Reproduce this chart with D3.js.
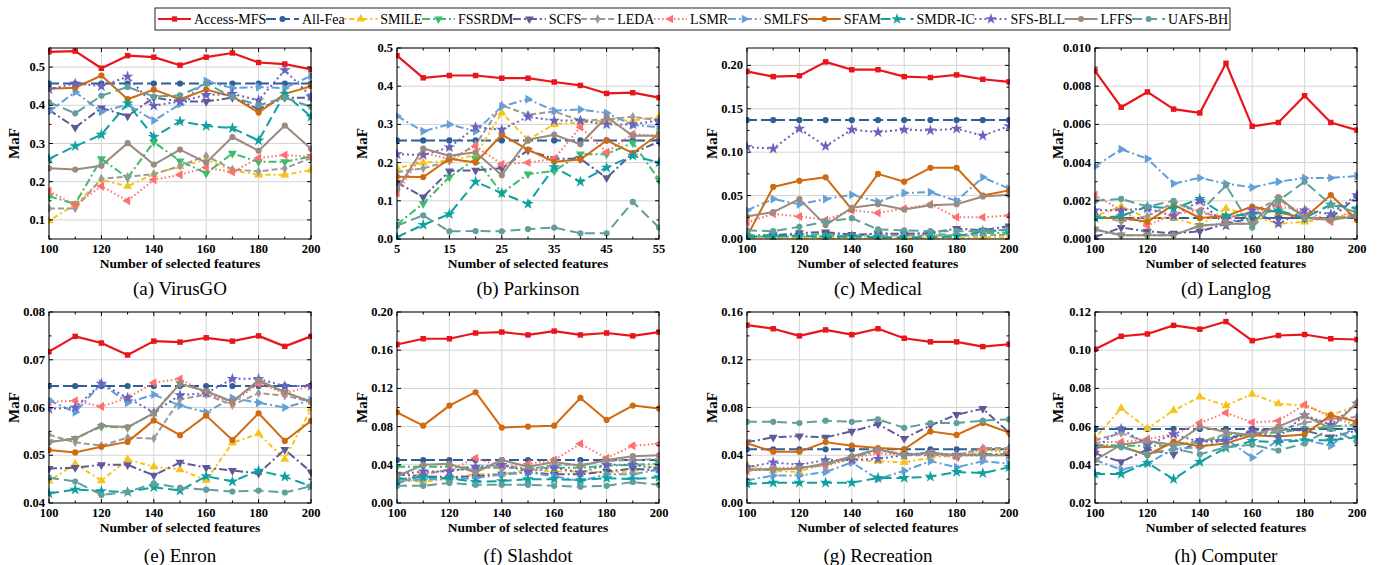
<!DOCTYPE html>
<html>
<head>
<meta charset="utf-8">
<script src="https://cdn.jsdelivr.net/npm/d3@7"></script>
<style>
  body { margin: 0; background: #fff; }
  svg { display: block; }
  text { font-family: "Liberation Serif", "Times New Roman", serif; }
</style>
</head>
<body>
<svg id="chart" width="1387" height="565"></svg>
<script>
// method names, in legend order (rows of every panel array follow this order)
var methods = ["Access-MFS", "All-Fea", "SMILE", "FSSRDM", "SCFS", "LEDA", "LSMR",
               "SMLFS", "SFAM", "SMDR-IC", "SFS-BLL", "LFFS", "UAFS-BH"];

var featSteps = [100, 110, 120, 130, 140, 150, 160, 170, 180, 190, 200];
var parkSteps = [5, 10, 15, 20, 25, 30, 35, 40, 45, 50, 55];
var featTicks = [100, 120, 140, 160, 180, 200];
var parkTicks = [5, 15, 25, 35, 45, 55];

var captions = ["(a) VirusGO", "(b) Parkinson", "(c) Medical", "(d) Langlog",
                "(e) Enron", "(f) Slashdot", "(g) Recreation", "(h) Computer"];

// MaF values
var virusGO = [
  [0.540, 0.542, 0.497, 0.530, 0.526, 0.505, 0.526, 0.537, 0.512, 0.508, 0.494],
  [0.457, 0.457, 0.457, 0.457, 0.457, 0.457, 0.457, 0.457, 0.457, 0.457, 0.457],
  [0.098, 0.140, 0.205, 0.188, 0.220, 0.240, 0.258, 0.230, 0.218, 0.218, 0.231],
  [0.162, 0.142, 0.260, 0.210, 0.304, 0.254, 0.222, 0.274, 0.252, 0.252, 0.266],
  [0.388, 0.342, 0.393, 0.372, 0.420, 0.410, 0.410, 0.420, 0.390, 0.420, 0.420],
  [0.130, 0.130, 0.208, 0.213, 0.220, 0.241, 0.268, 0.232, 0.227, 0.235, 0.262],
  [0.175, 0.140, 0.188, 0.150, 0.205, 0.218, 0.237, 0.225, 0.262, 0.270, 0.265],
  [0.383, 0.435, 0.383, 0.402, 0.360, 0.403, 0.464, 0.445, 0.448, 0.445, 0.477],
  [0.443, 0.446, 0.478, 0.416, 0.441, 0.416, 0.441, 0.423, 0.381, 0.430, 0.450],
  [0.260, 0.293, 0.323, 0.405, 0.317, 0.358, 0.346, 0.340, 0.308, 0.430, 0.370],
  [0.442, 0.457, 0.450, 0.475, 0.399, 0.410, 0.427, 0.430, 0.413, 0.492, 0.423],
  [0.235, 0.232, 0.242, 0.301, 0.245, 0.284, 0.250, 0.317, 0.281, 0.347, 0.286],
  [0.408, 0.379, 0.425, 0.448, 0.423, 0.426, 0.457, 0.422, 0.400, 0.420, 0.396]
];

var parkinson = [
  [0.480, 0.422, 0.428, 0.428, 0.421, 0.421, 0.411, 0.402, 0.381, 0.383, 0.370],
  [0.258, 0.258, 0.258, 0.258, 0.258, 0.258, 0.258, 0.258, 0.258, 0.258, 0.258],
  [0.186, 0.200, 0.205, 0.220, 0.330, 0.260, 0.300, 0.305, 0.310, 0.310, 0.320],
  [0.038, 0.093, 0.162, 0.210, 0.120, 0.170, 0.178, 0.222, 0.222, 0.252, 0.155],
  [0.148, 0.110, 0.178, 0.180, 0.185, 0.232, 0.210, 0.210, 0.160, 0.225, 0.255],
  [0.175, 0.185, 0.204, 0.247, 0.350, 0.325, 0.334, 0.310, 0.313, 0.320, 0.310],
  [0.120, 0.225, 0.210, 0.243, 0.196, 0.200, 0.210, 0.293, 0.227, 0.275, 0.270],
  [0.322, 0.282, 0.300, 0.282, 0.347, 0.366, 0.336, 0.339, 0.330, 0.298, 0.293],
  [0.163, 0.162, 0.210, 0.200, 0.273, 0.234, 0.202, 0.208, 0.258, 0.225, 0.275],
  [0.005, 0.037, 0.065, 0.150, 0.120, 0.092, 0.188, 0.150, 0.187, 0.218, 0.200],
  [0.222, 0.220, 0.240, 0.293, 0.286, 0.320, 0.310, 0.310, 0.300, 0.300, 0.310],
  [0.130, 0.237, 0.218, 0.227, 0.167, 0.260, 0.273, 0.248, 0.320, 0.270, 0.270],
  [0.035, 0.062, 0.020, 0.021, 0.020, 0.026, 0.030, 0.015, 0.015, 0.097, 0.030]
];

var medical = [
  [0.193, 0.187, 0.188, 0.204, 0.195, 0.195, 0.187, 0.186, 0.189, 0.184, 0.181],
  [0.137, 0.137, 0.137, 0.137, 0.137, 0.137, 0.137, 0.137, 0.137, 0.137, 0.137],
  [0.001, 0.001, 0.001, 0.001, 0.001, 0.001, 0.001, 0.001, 0.001, 0.002, 0.002],
  [0.004, 0.005, 0.004, 0.006, 0.003, 0.007, 0.005, 0.006, 0.004, 0.007, 0.007],
  [0.002, 0.004, 0.007, 0.008, 0.005, 0.006, 0.006, 0.007, 0.012, 0.010, 0.015],
  [0.003, 0.003, 0.003, 0.003, 0.004, 0.004, 0.004, 0.004, 0.004, 0.004, 0.005],
  [0.019, 0.029, 0.026, 0.022, 0.033, 0.030, 0.035, 0.040, 0.025, 0.025, 0.027],
  [0.033, 0.046, 0.040, 0.046, 0.051, 0.043, 0.053, 0.054, 0.044, 0.071, 0.058],
  [0.003, 0.060, 0.067, 0.071, 0.034, 0.075, 0.066, 0.082, 0.082, 0.050, 0.056],
  [0.003, 0.003, 0.004, 0.002, 0.003, 0.002, 0.002, 0.002, 0.003, 0.009, 0.010],
  [0.106, 0.104, 0.127, 0.107, 0.126, 0.123, 0.126, 0.125, 0.127, 0.119, 0.130],
  [0.026, 0.031, 0.046, 0.016, 0.036, 0.040, 0.034, 0.039, 0.040, 0.049, 0.051],
  [0.010, 0.009, 0.014, 0.020, 0.024, 0.011, 0.010, 0.009, 0.009, 0.009, 0.011]
];

var langlog = [
  [0.0088, 0.0069, 0.0077, 0.0068, 0.0066, 0.0092, 0.0059, 0.0061, 0.0075, 0.0061, 0.0057],
  [0.0011, 0.0011, 0.0011, 0.0011, 0.0011, 0.0011, 0.0011, 0.0011, 0.0011, 0.0011, 0.0011],
  [0.0012, 0.0017, 0.0011, 0.0011, 0.0007, 0.0016, 0.0012, 0.0008, 0.0009, 0.0011, 0.0014],
  [0.0005, 0.0002, 0.0002, 0.0002, 0.0007, 0.0008, 0.0008, 0.0021, 0.0011, 0.0011, 0.0012],
  [0.0001, 0.0006, 0.0004, 0.0003, 0.0004, 0.0008, 0.0011, 0.0011, 0.0011, 0.0011, 0.0022],
  [0.0013, 0.0009, 0.0012, 0.0019, 0.0014, 0.0011, 0.0014, 0.0021, 0.0012, 0.0010, 0.0013],
  [0.0023, 0.0015, 0.0007, 0.0013, 0.0015, 0.0010, 0.0014, 0.0017, 0.0015, 0.0009, 0.0016],
  [0.0038, 0.0047, 0.0042, 0.0029, 0.0032, 0.0029, 0.0027, 0.0030, 0.0032, 0.0032, 0.0033],
  [0.0011, 0.0011, 0.0009, 0.0018, 0.0011, 0.0012, 0.0017, 0.0014, 0.0011, 0.0023, 0.0010],
  [0.0011, 0.0012, 0.0017, 0.0016, 0.0021, 0.0012, 0.0013, 0.0015, 0.0011, 0.0018, 0.0016],
  [0.0015, 0.0015, 0.0016, 0.0012, 0.0020, 0.0007, 0.0015, 0.0008, 0.0015, 0.0013, 0.0023],
  [0.0005, 0.0002, 0.0002, 0.0002, 0.0007, 0.0008, 0.0008, 0.0022, 0.0011, 0.0010, 0.0012],
  [0.0020, 0.0021, 0.0017, 0.0020, 0.0014, 0.0028, 0.0006, 0.0020, 0.0030, 0.0018, 0.0014]
];

var enron = [
  [0.0717, 0.0749, 0.0735, 0.0710, 0.0739, 0.0737, 0.0746, 0.0739, 0.0750, 0.0728, 0.0749],
  [0.0645, 0.0645, 0.0645, 0.0645, 0.0645, 0.0645, 0.0645, 0.0645, 0.0645, 0.0645, 0.0645],
  [0.0446, 0.0482, 0.0447, 0.0491, 0.0476, 0.0470, 0.0448, 0.0526, 0.0545, 0.0492, 0.0597],
  [0.0528, 0.0535, 0.0560, 0.0558, 0.0588, 0.0650, 0.0634, 0.0612, 0.0655, 0.0632, 0.0612],
  [0.0472, 0.0474, 0.0480, 0.0480, 0.0458, 0.0485, 0.0474, 0.0468, 0.0462, 0.0512, 0.0465],
  [0.0543, 0.0527, 0.0520, 0.0537, 0.0535, 0.0617, 0.0627, 0.0605, 0.0630, 0.0625, 0.0612],
  [0.0612, 0.0614, 0.0602, 0.0620, 0.0652, 0.0660, 0.0630, 0.0610, 0.0650, 0.0630, 0.0645],
  [0.0615, 0.0590, 0.0650, 0.0610, 0.0627, 0.0604, 0.0590, 0.0620, 0.0610, 0.0600, 0.0615],
  [0.0511, 0.0506, 0.0518, 0.0528, 0.0573, 0.0542, 0.0583, 0.0532, 0.0588, 0.0530, 0.0572],
  [0.0420, 0.0428, 0.0425, 0.0423, 0.0433, 0.0426, 0.0456, 0.0445, 0.0468, 0.0455, 0.0435],
  [0.0597, 0.0600, 0.0650, 0.0620, 0.0590, 0.0626, 0.0630, 0.0660, 0.0660, 0.0645, 0.0645],
  [0.0527, 0.0535, 0.0562, 0.0559, 0.0588, 0.0650, 0.0634, 0.0612, 0.0657, 0.0632, 0.0612],
  [0.0453, 0.0445, 0.0417, 0.0423, 0.0441, 0.0432, 0.0428, 0.0424, 0.0426, 0.0422, 0.0435]
];

var slashdot = [
  [0.166, 0.172, 0.172, 0.178, 0.179, 0.176, 0.180, 0.176, 0.178, 0.175, 0.179],
  [0.045, 0.045, 0.045, 0.045, 0.045, 0.045, 0.045, 0.045, 0.045, 0.045, 0.045],
  [0.025, 0.022, 0.026, 0.030, 0.030, 0.035, 0.033, 0.033, 0.032, 0.033, 0.040],
  [0.038, 0.038, 0.038, 0.037, 0.037, 0.037, 0.037, 0.037, 0.039, 0.040, 0.041],
  [0.030, 0.028, 0.027, 0.028, 0.030, 0.032, 0.030, 0.030, 0.033, 0.036, 0.034],
  [0.020, 0.030, 0.035, 0.035, 0.040, 0.035, 0.040, 0.040, 0.044, 0.045, 0.046],
  [0.022, 0.031, 0.034, 0.047, 0.038, 0.041, 0.045, 0.062, 0.047, 0.060, 0.062],
  [0.022, 0.025, 0.025, 0.026, 0.030, 0.032, 0.028, 0.023, 0.030, 0.030, 0.035],
  [0.095, 0.081, 0.102, 0.116, 0.079, 0.080, 0.081, 0.110, 0.087, 0.102, 0.099],
  [0.025, 0.027, 0.026, 0.022, 0.023, 0.025, 0.025, 0.024, 0.026, 0.025, 0.027],
  [0.030, 0.033, 0.033, 0.038, 0.040, 0.033, 0.037, 0.032, 0.040, 0.040, 0.036],
  [0.028, 0.040, 0.041, 0.032, 0.045, 0.038, 0.043, 0.039, 0.045, 0.049, 0.050],
  [0.018, 0.018, 0.021, 0.019, 0.019, 0.019, 0.018, 0.017, 0.018, 0.022, 0.019]
];

var recreation = [
  [0.149, 0.146, 0.140, 0.145, 0.141, 0.146, 0.138, 0.135, 0.135, 0.131, 0.133],
  [0.045, 0.045, 0.045, 0.045, 0.045, 0.045, 0.045, 0.045, 0.045, 0.045, 0.045],
  [0.032, 0.027, 0.026, 0.034, 0.036, 0.035, 0.034, 0.038, 0.040, 0.045, 0.044],
  [0.028, 0.028, 0.029, 0.032, 0.038, 0.044, 0.041, 0.042, 0.040, 0.041, 0.041],
  [0.051, 0.055, 0.056, 0.055, 0.060, 0.066, 0.054, 0.065, 0.074, 0.079, 0.059],
  [0.028, 0.028, 0.029, 0.033, 0.039, 0.045, 0.040, 0.040, 0.040, 0.046, 0.046],
  [0.027, 0.029, 0.030, 0.031, 0.037, 0.042, 0.040, 0.042, 0.038, 0.045, 0.042],
  [0.019, 0.023, 0.023, 0.026, 0.034, 0.020, 0.027, 0.035, 0.030, 0.035, 0.033],
  [0.050, 0.043, 0.043, 0.051, 0.048, 0.046, 0.045, 0.060, 0.057, 0.067, 0.059],
  [0.016, 0.017, 0.017, 0.017, 0.017, 0.021, 0.021, 0.022, 0.026, 0.025, 0.030],
  [0.030, 0.034, 0.032, 0.036, 0.036, 0.037, 0.040, 0.042, 0.040, 0.040, 0.040],
  [0.028, 0.028, 0.029, 0.033, 0.039, 0.045, 0.040, 0.042, 0.040, 0.040, 0.040],
  [0.068, 0.068, 0.067, 0.069, 0.068, 0.070, 0.063, 0.067, 0.067, 0.069, 0.070]
];

var computer = [
  [0.1005, 0.1073, 0.1085, 0.1130, 0.1110, 0.1150, 0.1050, 0.1077, 0.1082, 0.1060, 0.1056],
  [0.0588, 0.0588, 0.0588, 0.0588, 0.0588, 0.0588, 0.0588, 0.0588, 0.0588, 0.0588, 0.0588],
  [0.0540, 0.0695, 0.0590, 0.0685, 0.0755, 0.0710, 0.0770, 0.0720, 0.0710, 0.0660, 0.0710],
  [0.0505, 0.0500, 0.0500, 0.0500, 0.0525, 0.0545, 0.0560, 0.0570, 0.0585, 0.0600, 0.0610],
  [0.0460, 0.0415, 0.0480, 0.0455, 0.0525, 0.0530, 0.0580, 0.0585, 0.0580, 0.0545, 0.0580],
  [0.0530, 0.0565, 0.0520, 0.0500, 0.0520, 0.0560, 0.0560, 0.0580, 0.0620, 0.0640, 0.0650],
  [0.0520, 0.0520, 0.0535, 0.0560, 0.0620, 0.0672, 0.0622, 0.0630, 0.0715, 0.0650, 0.0608],
  [0.0425, 0.0375, 0.0405, 0.0485, 0.0490, 0.0535, 0.0438, 0.0530, 0.0530, 0.0500, 0.0610],
  [0.0490, 0.0497, 0.0450, 0.0522, 0.0497, 0.0512, 0.0555, 0.0548, 0.0558, 0.0660, 0.0625],
  [0.0352, 0.0352, 0.0410, 0.0325, 0.0415, 0.0488, 0.0525, 0.0518, 0.0528, 0.0528, 0.0545],
  [0.0485, 0.0588, 0.0505, 0.0560, 0.0520, 0.0525, 0.0570, 0.0545, 0.0660, 0.0610, 0.0720],
  [0.0425, 0.0505, 0.0525, 0.0505, 0.0600, 0.0572, 0.0555, 0.0600, 0.0658, 0.0590, 0.0725],
  [0.0505, 0.0492, 0.0455, 0.0485, 0.0455, 0.0492, 0.0505, 0.0475, 0.0512, 0.0590, 0.0520]
];

// y axis tick labels for each panel
var yTicksA = [0.1, 0.2, 0.3, 0.4, 0.5];
var yTicksB = [0.0, 0.1, 0.2, 0.3, 0.4, 0.5];
var yTicksC = [0.00, 0.05, 0.10, 0.15, 0.20];
var yTicksD = [0.000, 0.002, 0.004, 0.006, 0.008, 0.010];
var yTicksE = [0.04, 0.05, 0.06, 0.07, 0.08];
var yTicksF = [0.00, 0.04, 0.08, 0.12, 0.16, 0.20];
var yTicksG = [0.00, 0.04, 0.08, 0.12, 0.16];
var yTicksH = [0.02, 0.04, 0.06, 0.08, 0.10, 0.12];

// line styles, same order as methods
var styles = [
  {color: "#e8161b", dash: null,          shape: "square", rot: 0,   w: 2.2},
  {color: "#2f5f98", dash: "10,4",        shape: "circle", rot: 0,   w: 2},
  {color: "#f7c31a", dash: "2,3,5,3",     shape: "tri",    rot: 0,   w: 2},
  {color: "#3cbc6c", dash: "8,3,2,3",     shape: "tri",    rot: 180, w: 2},
  {color: "#5e5a98", dash: "8,3,2,3",     shape: "tri",    rot: 180, w: 2},
  {color: "#9a9a9a", dash: "6,3",         shape: "diamond",rot: 0,   w: 2},
  {color: "#ff6f6f", dash: "1.5,2.5",     shape: "tri",    rot: -90, w: 2},
  {color: "#649fd8", dash: "8,3,2,3",     shape: "tri",    rot: 90,  w: 2},
  {color: "#d06a0e", dash: null,          shape: "circle", rot: 0,   w: 2},
  {color: "#11a0a0", dash: "10,5",        shape: "star",   rot: 0,   w: 2},
  {color: "#6a64c0", dash: "2,3",         shape: "star",   rot: 0,   w: 2},
  {color: "#9b8a7f", dash: null,          shape: "circle", rot: 0,   w: 2},
  {color: "#619e9c", dash: "10,5",        shape: "circle", rot: 0,   w: 2}
];

var panels = [
  {data: virusGO,    xs: featSteps, xt: featTicks, yd: [0.05, 0.55], yt: yTicksA, fmt: ".1f"},
  {data: parkinson,  xs: parkSteps, xt: parkTicks, yd: [0, 0.5],     yt: yTicksB, fmt: ".1f"},
  {data: medical,    xs: featSteps, xt: featTicks, yd: [0, 0.22],    yt: yTicksC, fmt: ".2f"},
  {data: langlog,    xs: featSteps, xt: featTicks, yd: [0, 0.010],   yt: yTicksD, fmt: ".3f"},
  {data: enron,      xs: featSteps, xt: featTicks, yd: [0.04, 0.08], yt: yTicksE, fmt: ".2f"},
  {data: slashdot,   xs: featSteps, xt: featTicks, yd: [0, 0.20],    yt: yTicksF, fmt: ".2f"},
  {data: recreation, xs: featSteps, xt: featTicks, yd: [0, 0.16],    yt: yTicksG, fmt: ".2f"},
  {data: computer,   xs: featSteps, xt: featTicks, yd: [0.02, 0.12], yt: yTicksH, fmt: ".2f"}
];

var svg = d3.select("#chart");
var colX = [49, 397, 747, 1095];
var rowY = [48, 312];
var pw = 262, ph = 191;

function symbolFor(st, size) {
  var t = {square: d3.symbolSquare, circle: d3.symbolCircle, tri: d3.symbolTriangle,
           diamond: d3.symbolDiamond, star: d3.symbolStar}[st.shape];
  var s = size;
  if (st.shape == "tri") s = size * 1.15;
  if (st.shape == "star") s = size * 1.4;
  if (st.shape == "diamond") s = size * 0.9;
  return d3.symbol().type(t).size(s)();
}

panels.forEach(function(p, i) {
  var left = colX[i % 4], top = rowY[Math.floor(i / 4)];
  var g = svg.append("g").attr("transform", "translate(" + left + "," + top + ")");

  var x = d3.scaleLinear().domain(d3.extent(p.xs)).range([0, pw]);
  var y = d3.scaleLinear().domain(p.yd).range([ph, 0]);

  // grid
  g.selectAll(".gx").data(p.xt).enter().append("line")
    .attr("x1", function(d){ return x(d) }).attr("x2", function(d){ return x(d) })
    .attr("y1", 0).attr("y2", ph)
    .style("stroke", "#d4d4d4").style("stroke-width", 1)
  g.selectAll(".gy").data(p.yt).enter().append("line")
    .attr("x1", 0).attr("x2", pw)
    .attr("y1", function(d){ return y(d) }).attr("y2", function(d){ return y(d) })
    .style("stroke", "#d4d4d4").style("stroke-width", 1)

  // minor ticks at midpoints
  var xStep = p.xt[1] - p.xt[0], yStep = p.yt[1] - p.yt[0];
  var xMinor = p.xt.slice(0, -1).map(function(d){ return d + xStep / 2 });
  var yMinor = [];
  for (var v = p.yt[0] - yStep / 2; v <= p.yd[1] + 1e-9; v += yStep) {
    if (v >= p.yd[0] - 1e-9) yMinor.push(v);
  }

  var clipId = "clip" + i;
  g.append("clipPath").attr("id", clipId).append("rect")
    .attr("x", -1).attr("y", -1).attr("width", pw + 2).attr("height", ph + 2);

  var line = d3.line()
    .x(function(d, k){ return x(p.xs[k]) })
    .y(function(d){ return y(d) });

  var plot = g.append("g").attr("clip-path", "url(#" + clipId + ")");
  p.data.forEach(function(vals, m) {
    var st = styles[m];
    plot.append("path")
      .datum(vals)
      .attr("d", line)
      .style("fill", "none")
      .style("stroke", st.color)
      .style("stroke-width", st.w)
      .style("stroke-dasharray", st.dash)
      .style("stroke-linejoin", "round");
    plot.selectAll(".mk" + m).data(vals).enter().append("path")
      .attr("d", symbolFor(st, 30))
      .attr("transform", function(d, k){
        return "translate(" + x(p.xs[k]) + "," + y(d) + ") rotate(" + st.rot + ")" })
      .style("fill", st.color)
      .style("stroke", "none");
  });

  // ticks on all sides, pointing inwards
  function ticks(vals, len, axis) {
    vals.forEach(function(d) {
      if (axis == "x") {
        g.append("line").attr("x1", x(d)).attr("x2", x(d)).attr("y1", ph).attr("y2", ph - len).style("stroke", "#000");
        g.append("line").attr("x1", x(d)).attr("x2", x(d)).attr("y1", 0).attr("y2", len).style("stroke", "#000");
      } else {
        g.append("line").attr("y1", y(d)).attr("y2", y(d)).attr("x1", 0).attr("x2", len).style("stroke", "#000");
        g.append("line").attr("y1", y(d)).attr("y2", y(d)).attr("x1", pw).attr("x2", pw - len).style("stroke", "#000");
      }
    });
  }
  ticks(p.xt, 4, "x"); ticks(xMinor, 2.5, "x");
  ticks(p.yt, 4, "y"); ticks(yMinor, 2.5, "y");

  g.append("rect").attr("width", pw).attr("height", ph)
    .style("fill", "none").style("stroke", "#000").style("stroke-width", 1);

  // tick labels
  g.selectAll(".xl").data(p.xt).enter().append("text")
    .attr("x", function(d){ return x(d) }).attr("y", ph + 14)
    .attr("text-anchor", "middle")
    .style("font-size", "12.5px").style("font-weight", "bold")
    .text(function(d){ return d });
  var f = d3.format(p.fmt);
  g.selectAll(".yl").data(p.yt).enter().append("text")
    .attr("x", -4).attr("y", function(d){ return y(d) })
    .attr("text-anchor", "end").attr("dominant-baseline", "central")
    .style("font-size", "12.5px").style("font-weight", "bold")
    .text(function(d){ return f(d) });

  // axis titles
  g.append("text")
    .attr("x", pw / 2).attr("y", ph + 29)
    .attr("text-anchor", "middle")
    .style("font-size", "13.5px").style("font-weight", "bold")
    .text("Number of selected features");
  g.append("text")
    .attr("transform", "translate(" + (i % 4 == 3 ? -32 : -30) + "," + (ph / 2) + ") rotate(-90)")
    .attr("text-anchor", "middle")
    .style("font-size", "15px").style("font-weight", "bold")
    .text("MaF");

  // caption
  g.append("text")
    .attr("x", pw / 2).attr("y", ph + 56 + (i < 4 ? 0 : 3))
    .attr("text-anchor", "middle")
    .style("font-size", "19px")
    .text(captions[i]);
});

// legend
var legend = svg.append("g");
legend.append("rect")
  .attr("x", 155).attr("y", 8).attr("width", 1075).attr("height", 22)
  .style("fill", "#fff").style("stroke", "#222").style("stroke-width", 1);

var items = legend.selectAll(".item").data(methods).enter().append("g");
items.append("text")
  .attr("y", 19).attr("dominant-baseline", "central")
  .style("font-size", "14px")
  .text(function(d){ return d });
var widths = [];
items.select("text").each(function(){ widths.push(this.getComputedTextLength()) });
var lineLen = 33, startX = 158, endX = 1228;
var used = d3.sum(widths) + methods.length * (lineLen + 3);
var gap = (endX - startX - used) / (methods.length - 1);
var pos = startX;
items.each(function(d, i) {
  var it = d3.select(this);
  var st = styles[i];
  it.insert("line", "text")
    .attr("x1", pos).attr("x2", pos + lineLen).attr("y1", 19).attr("y2", 19)
    .style("stroke", st.color).style("stroke-width", st.w)
    .style("stroke-dasharray", st.dash);
  it.insert("path", "text")
    .attr("d", symbolFor(st, 28))
    .attr("transform", "translate(" + (pos + lineLen / 2) + ",19) rotate(" + st.rot + ")")
    .style("fill", st.color);
  it.select("text").attr("x", pos + lineLen + 3);
  pos += lineLen + 3 + widths[i] + gap;
});
</script>
</body>
</html>
